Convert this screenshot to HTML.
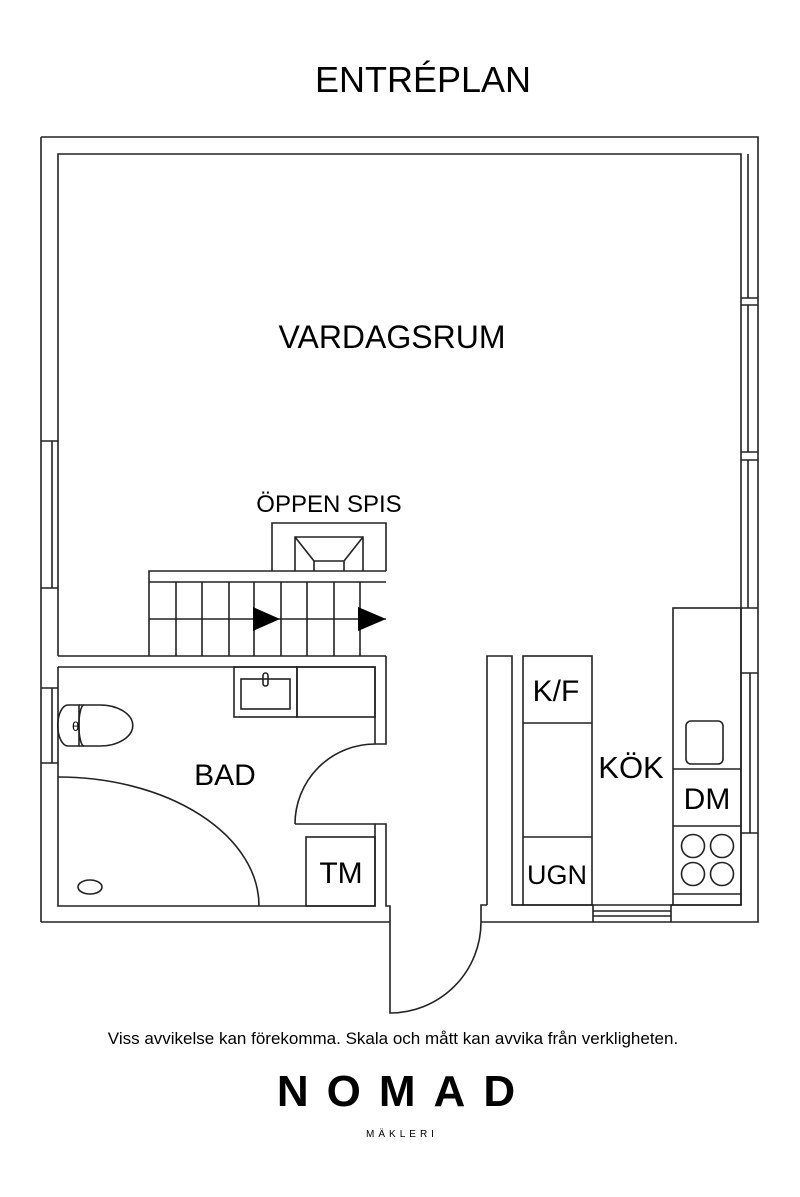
<!DOCTYPE html>
<html><head><meta charset="utf-8"><style>
html,body{margin:0;padding:0;background:#fff}
svg{display:block}
text{font-family:"Liberation Sans",sans-serif;fill:#000}
</style></head><body>
<svg width="800" height="1197" viewBox="0 0 800 1197" xmlns="http://www.w3.org/2000/svg">
<g fill="none" stroke="#222" stroke-width="1.6">
<path d="M41 137 H758 V922 H481 M390 922 H41 Z"/>
<path d="M41 922 V137"/>
<path d="M58 656 V154 H741 V905 H593"/>
<path d="M58 656 H386"/>
<path d="M52 441 V588 M41 441 H58 M41 588 H58"/>
<path d="M52 688 V763 M41 688 H58 M41 763 H58"/>
<path d="M748 154 V298 M741 298 H758 M741 305 H758 M748 305 V452 M741 452 H758 M741 460 H758 M748 460 V608 M741 608 H758"/>
<path d="M750 673 V833 M741 673 H758 M741 833 H758"/>
<path d="M58 667 H375 V744 H386 V656"/>
<path d="M58 667 V906 H375 V824 H386 V906 H390 V922"/>
<path d="M295 824 H375"/>
<path d="M295 824 A80 80 0 0 1 375 744"/>
<rect x="234" y="667" width="63" height="50"/>
<rect x="297" y="667" width="78" height="50"/>
<rect x="241" y="679" width="49" height="30"/>
<rect x="263" y="673" width="5" height="13" rx="2.5"/>
<path d="M79 705 H68 A10 20 0 0 0 68 746 H79 Z"/>
<path d="M79 705 H100 A32 20 0 0 1 100 746 H79"/>
<path d="M84 705 A5 20 0 0 0 84 746"/>
<path d="M58 777 A201 129 0 0 1 259 906"/>
<ellipse cx="90" cy="887" rx="12" ry="7"/>
<rect x="306" y="837" width="69" height="69"/>
<path d="M149 656 V571 H386 M149 582 H386 M149 619 H386"/>
<path d="M176 582 V656 M202 582 V656 M229 582 V656 M254 582 V656 M281 582 V656 M307 582 V656 M334 582 V656 M360 582 V656"/>
<path d="M272 571 V523 H386 V571"/>
<path d="M295 571 V537 H363 V571 M314 571 V561 H344 V571 M295 537 L314 561 M363 537 L344 561"/>
<path d="M390 922 V1013 A91 91 0 0 0 481 922 V905 H487"/>
<path d="M487 905 V656 H512 V905 H523"/>
<rect x="523" y="656" width="69" height="249"/>
<path d="M523 723 H592 M523 837 H592"/>
<path d="M512 905 H593 V922 M671 922 V905 H673"/>
<path d="M593 911 H671 M593 916 H671"/>
<rect x="673" y="608" width="68" height="297"/>
<path d="M673 769 H741 M673 826 H741 M673 894 H741"/>
<rect x="686" y="721" width="37" height="43" rx="5"/>
<circle cx="693" cy="846" r="11.5"/><circle cx="722" cy="846" r="11.5"/>
<circle cx="693" cy="874" r="11.5"/><circle cx="722" cy="874" r="11.5"/>
</g>
<polygon points="253,607 280,619 253,631" fill="#000"/>
<polygon points="358,607 386,619 358,631" fill="#000"/>
<text x="72" y="731" font-size="13">θ</text>
<text x="423" y="92" font-size="36" text-anchor="middle">ENTRÉPLAN</text>
<text x="392" y="348" font-size="32" text-anchor="middle">VARDAGSRUM</text>
<text x="329" y="512" font-size="24" text-anchor="middle">ÖPPEN SPIS</text>
<text x="225" y="785" font-size="30" text-anchor="middle">BAD</text>
<text x="341" y="883" font-size="30" text-anchor="middle">TM</text>
<text x="556" y="701" font-size="30" text-anchor="middle">K/F</text>
<text x="631" y="778" font-size="31" text-anchor="middle">KÖK</text>
<text x="707" y="809" font-size="30" text-anchor="middle">DM</text>
<text x="557" y="884" font-size="27" text-anchor="middle">UGN</text>
<text x="393" y="1044" font-size="17" text-anchor="middle">Viss avvikelse kan förekomma. Skala och mått kan avvika från verkligheten.</text>
<text x="405" y="1106" font-size="44" text-anchor="middle" letter-spacing="18" font-weight="bold">NOMAD</text>
<text x="402" y="1137" font-size="10" text-anchor="middle" letter-spacing="4">MÄKLERI</text>
</svg>
</body></html>
